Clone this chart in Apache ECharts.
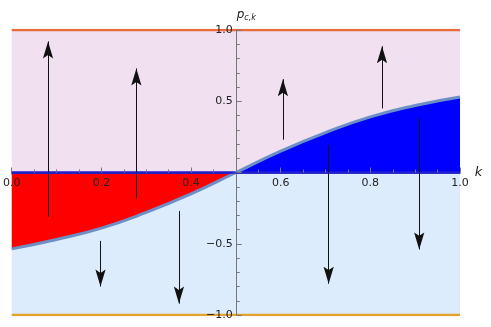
<!DOCTYPE html>
<html lang="en">
<head>
    <meta charset="UTF-8">
    <title>p_c,k</title>
    <style>
        html, body { margin: 0; padding: 0; background: #fff; }
    </style>
</head>
<body>
<div id="main" style="width:491px;height:327px;"></div>
<script src="https://cdn.jsdelivr.net/npm/echarts@6/dist/echarts.min.js"></script>
<script>
    // curve p(k)
    var curveK = [0, 0.1, 0.2, 0.3, 0.4, 0.5, 0.6, 0.7, 0.8, 0.9, 1.0];
    var curveP = [-0.536, -0.47, -0.39, -0.28, -0.15, 0, 0.15, 0.28, 0.39, 0.47, 0.53];
    // arrows: x position, start, end
    var arrowK    = [0.081, 0.278, 0.605, 0.826, 0.198, 0.373, 0.707, 0.909];
    var arrowFrom = [-0.31, -0.18, 0.23, 0.45, -0.48, -0.27, 0.19, 0.38];
    var arrowTo   = [0.92, 0.73, 0.655, 0.886, -0.80, -0.92, -0.78, -0.54];
    var xTicks = [0, 0.2, 0.4, 0.6, 0.8, 1.0];
    var yTicks = [-1, -0.5, 0.5, 1];

    var pts = [], left = [], right = [];
    for (var i = 0; i < curveK.length; i++) {
        pts.push([curveK[i], curveP[i]]);
        if (curveK[i] <= 0.5) left.push([curveK[i], curveP[i]]);
        if (curveK[i] >= 0.5) right.push([curveK[i], curveP[i]]);
    }
    var arrows = [];
    for (var j = 0; j < arrowK.length; j++) {
        arrows.push({coords: [[arrowK[j], arrowFrom[j]], [arrowK[j], arrowTo[j]]]});
    }
    // notched head with its tip at the box centre (box padded to a square)
    var head = 'path://M0,0 M40,40 M20,20 L26,40 L20,36 L14,40 Z';

    var myChart = echarts.init(document.getElementById('main'));
    var axisTxt = {color: '#222', fontSize: 11, fontFamily: 'DejaVu Sans'};
    var option = {
        animation: false,
        grid: {left: 10, right: 31, top: 30, bottom: 12},
        xAxis: {
            type: 'value', min: 0, max: 1, interval: 0.2, z: 10,
            offset: -142.5,
            name: 'k', nameLocation: 'end', nameGap: 14,
            nameTextStyle: {fontStyle: 'italic', fontSize: 13, color: '#222', fontFamily: 'DejaVu Sans'},
            axisLine: {onZero: false, lineStyle: {color: '#2222c8', width: 1.5}},
            axisTick: {inside: true, length: 5, lineStyle: {color: '#777'}},
            minorTick: {show: true, splitNumber: 4, length: 3, lineStyle: {color: '#777'}},
            axisLabel: Object.assign({formatter: function (v) { return xTicks.indexOf(v) >= 0 ? v.toFixed(1) : ''; }, margin: 5}, axisTxt),
            splitLine: {show: false}
        },
        yAxis: {
            type: 'value', min: -1, max: 1, interval: 0.5, z: 10,
            offset: -225,
            name: '{p|p}{s|c,k}', nameLocation: 'end', nameGap: 8,
            nameTextStyle: {
                align: 'left', padding: [0, 0, 0, 0],
                rich: {
                    p: {fontStyle: 'italic', fontSize: 12, color: '#222', fontFamily: 'DejaVu Sans'},
                    s: {fontStyle: 'italic', fontSize: 8, color: '#222', fontFamily: 'DejaVu Sans', verticalAlign: 'bottom', padding: [6, 0, 0, 0]}
                }
            },
            axisLine: {show: true, onZero: false, lineStyle: {color: '#777', width: 1}},
            axisTick: {inside: true, length: 5, lineStyle: {color: '#777'}},
            minorTick: {show: true, splitNumber: 5, length: 3, lineStyle: {color: '#777'}},
            axisLabel: Object.assign({
                formatter: function (v) {
                    if (yTicks.indexOf(v) < 0) return '';
                    return (v < 0 ? '\u2212' : '') + Math.abs(v).toFixed(1);
                }, margin: 4
            }, axisTxt),
            splitLine: {show: false}
        },
        series: [
            {
                type: 'line', data: [], silent: true, z: 1,
                markArea: {
                    silent: true,
                    data: [
                        [{coord: [0, 0], itemStyle: {color: '#f1e0f0'}}, {coord: [1, 1]}],
                        [{coord: [0, -1], itemStyle: {color: '#dcecfc'}}, {coord: [1, 0]}]
                    ]
                }
            },
            {
                type: 'line', data: left, smooth: true, symbol: 'none', z: 3,
                lineStyle: {width: 0}, areaStyle: {color: '#ff0000', opacity: 1, origin: 0}
            },
            {
                type: 'line', data: right, smooth: true, symbol: 'none', z: 3,
                lineStyle: {width: 0}, areaStyle: {color: '#0000ff', opacity: 1, origin: 0}
            },
            {
                type: 'line', data: [[0, 0], [1, 0]], symbol: 'none', z: 4,
                lineStyle: {color: '#1c1cd0', width: 2.5}
            },
            {
                type: 'line', data: pts, smooth: true, symbol: 'none', z: 5,
                lineStyle: {color: '#6b8fc6', width: 3}
            },
            {
                type: 'line', data: [[0, 1], [1, 1]], symbol: 'none', z: 5,
                lineStyle: {color: '#ea6a3c', width: 2.5}
            },
            {
                type: 'line', data: [[0, -1], [1, -1]], symbol: 'none', z: 5,
                lineStyle: {color: '#e3a22e', width: 2.5}
            },
            {
                type: 'lines', coordinateSystem: 'cartesian2d', z: 6,
                data: arrows,
                symbol: ['none', head], symbolSize: 34,
                lineStyle: {color: '#111', width: 1, opacity: 1}
            }
        ]
    };
    myChart.setOption(option);
</script>
</body>
</html>
